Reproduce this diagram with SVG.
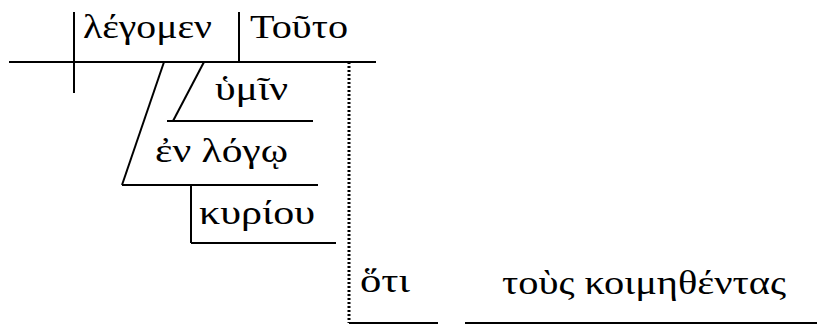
<svg xmlns="http://www.w3.org/2000/svg" width="821" height="325" viewBox="0 0 821 325">
<style>
line{stroke:#000;stroke-width:2;fill:none}
.d{stroke-dasharray:2,2;stroke-width:3}
text{font-family:"Liberation Serif","DejaVu Serif",serif;font-size:34px;fill:#000}
</style>
<rect width="821" height="325" fill="#fff"/>
<g id="connectors">
<line x1="9" y1="62" x2="376" y2="62"/>
<line x1="74" y1="12" x2="74" y2="93"/>
<line x1="239" y1="12" x2="239" y2="62"/>
<line x1="164" y1="62" x2="122" y2="185"/>
<line x1="122" y1="185" x2="318" y2="185"/>
<line x1="204" y1="62" x2="173" y2="121"/>
<line x1="167" y1="121" x2="313" y2="121"/>
<line x1="191" y1="185" x2="191" y2="243"/>
<line x1="191" y1="243" x2="336" y2="243"/>
<line class="d" x1="349" y1="62" x2="349" y2="323"/>
<line x1="349" y1="323" x2="438" y2="323"/>
<line x1="465" y1="323" x2="817" y2="323"/>
</g>
<g id="n1"><text x="83" y="38" textLength="129" lengthAdjust="spacingAndGlyphs">λέγομεν</text></g>
<g id="n2"><text x="250" y="38" textLength="98" lengthAdjust="spacingAndGlyphs">Τοῦτο</text></g>
<g id="n3"><text x="215" y="100" textLength="73" lengthAdjust="spacingAndGlyphs">ὑμῖν</text></g>
<g id="n4"><text x="155" y="162" textLength="133" lengthAdjust="spacingAndGlyphs">ἐν λόγῳ</text></g>
<g id="n5"><text x="199" y="224" textLength="116" lengthAdjust="spacingAndGlyphs">κυρίου</text></g>
<g id="n6"><text x="360" y="292" textLength="50" lengthAdjust="spacingAndGlyphs">ὅτι</text></g>
<g id="n7"><text x="502" y="294" textLength="284" lengthAdjust="spacingAndGlyphs">τοὺς κοιμηθέντας</text></g>
</svg>
